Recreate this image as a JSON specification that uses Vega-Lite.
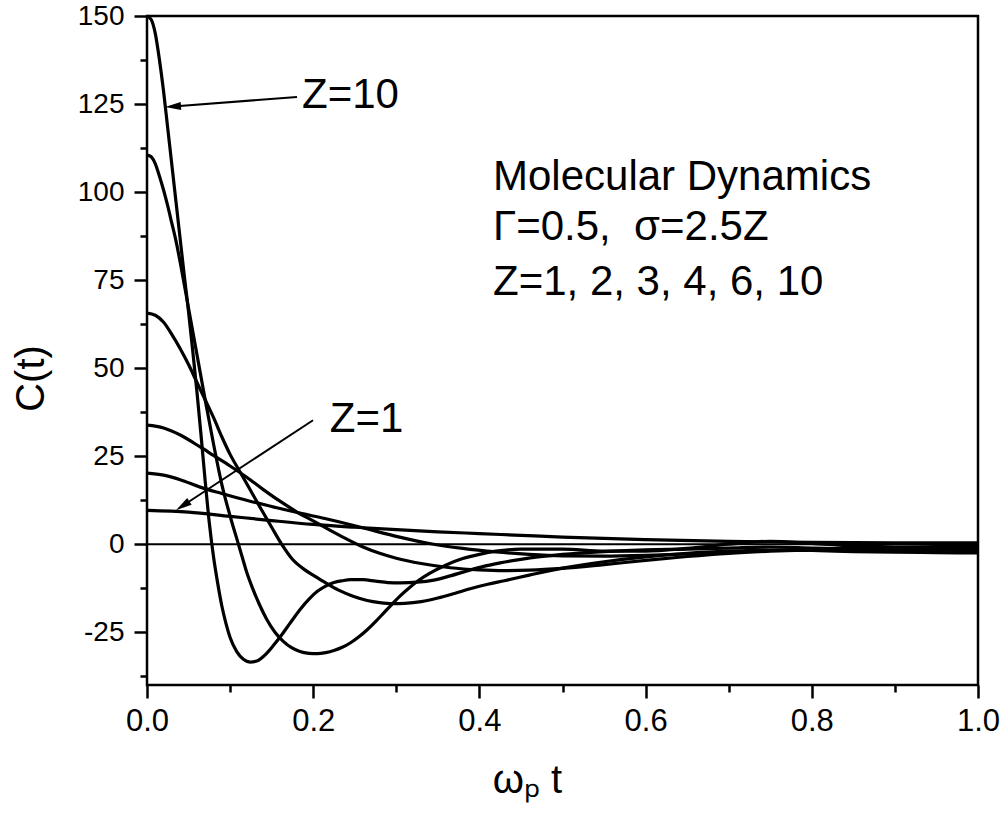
{
  "$schema": "https://vega.github.io/schema/vega-lite/v6.json",
  "width": 831,
  "height": 669,
  "autosize": "none",
  "padding": {"left": 147, "top": 16, "right": 26, "bottom": 128},
  "background": "white",
  "config": {
    "view": {"stroke": "black", "strokeWidth": 2.5},
    "font": "Liberation Sans",
    "axis": {"domain": false, "grid": false, "tickColor": "black", "tickWidth": 2.5, "labelColor": "black", "titleColor": "black", "titleFontWeight": "normal", "labelFont": "Liberation Sans", "titleFont": "Liberation Sans"}
  },
  "datasets": {
    "curves": [
      {"z": 10, "t": 0, "c": 150}, {"z": 10, "t": 0.005, "c": 149}, {"z": 10, "t": 0.01, "c": 145}, {"z": 10, "t": 0.015, "c": 137.5},
      {"z": 10, "t": 0.02, "c": 128.5}, {"z": 10, "t": 0.025, "c": 118}, {"z": 10, "t": 0.03, "c": 107.5}, {"z": 10, "t": 0.035, "c": 97},
      {"z": 10, "t": 0.04, "c": 86.5}, {"z": 10, "t": 0.045, "c": 76}, {"z": 10, "t": 0.05, "c": 66}, {"z": 10, "t": 0.055, "c": 55},
      {"z": 10, "t": 0.06, "c": 43.5}, {"z": 10, "t": 0.065, "c": 31}, {"z": 10, "t": 0.07, "c": 18}, {"z": 10, "t": 0.075, "c": 6},
      {"z": 10, "t": 0.08, "c": -3.5}, {"z": 10, "t": 0.085, "c": -11}, {"z": 10, "t": 0.09, "c": -17.5}, {"z": 10, "t": 0.095, "c": -22.5},
      {"z": 10, "t": 0.1, "c": -26.5}, {"z": 10, "t": 0.108, "c": -30.5}, {"z": 10, "t": 0.116, "c": -32.7}, {"z": 10, "t": 0.124, "c": -33.5},
      {"z": 10, "t": 0.132, "c": -33.2}, {"z": 10, "t": 0.144, "c": -31}, {"z": 10, "t": 0.153, "c": -28.5}, {"z": 10, "t": 0.162, "c": -25.8},
      {"z": 10, "t": 0.172, "c": -22.5}, {"z": 10, "t": 0.184, "c": -18.6}, {"z": 10, "t": 0.195, "c": -15.6}, {"z": 10, "t": 0.205, "c": -13.4},
      {"z": 10, "t": 0.215, "c": -11.9}, {"z": 10, "t": 0.225, "c": -10.9}, {"z": 10, "t": 0.235, "c": -10.4}, {"z": 10, "t": 0.245, "c": -10.1},
      {"z": 10, "t": 0.26, "c": -10.1}, {"z": 10, "t": 0.275, "c": -10.5}, {"z": 10, "t": 0.29, "c": -10.9}, {"z": 10, "t": 0.305, "c": -11},
      {"z": 10, "t": 0.325, "c": -10.8}, {"z": 10, "t": 0.345, "c": -10.2}, {"z": 10, "t": 0.365, "c": -9}, {"z": 10, "t": 0.385, "c": -7.6},
      {"z": 10, "t": 0.405, "c": -6.3}, {"z": 10, "t": 0.425, "c": -5.3}, {"z": 10, "t": 0.45, "c": -4.3}, {"z": 10, "t": 0.5, "c": -2.9},
      {"z": 10, "t": 0.55, "c": -2.1}, {"z": 10, "t": 0.6, "c": -1.6}, {"z": 10, "t": 0.65, "c": -1.4}, {"z": 10, "t": 0.7, "c": -1.1},
      {"z": 10, "t": 0.75, "c": -0.8}, {"z": 10, "t": 0.8, "c": -1.1}, {"z": 10, "t": 0.85, "c": -1.4}, {"z": 10, "t": 0.9, "c": -1.6},
      {"z": 10, "t": 0.95, "c": -1.7}, {"z": 10, "t": 1.0, "c": -1.8},

      {"z": 6, "t": 0, "c": 110.5}, {"z": 6, "t": 0.005, "c": 110}, {"z": 6, "t": 0.01, "c": 108}, {"z": 6, "t": 0.015, "c": 104.5},
      {"z": 6, "t": 0.02, "c": 100.5}, {"z": 6, "t": 0.025, "c": 96}, {"z": 6, "t": 0.03, "c": 91}, {"z": 6, "t": 0.035, "c": 86},
      {"z": 6, "t": 0.04, "c": 80}, {"z": 6, "t": 0.05, "c": 67}, {"z": 6, "t": 0.06, "c": 54}, {"z": 6, "t": 0.07, "c": 41},
      {"z": 6, "t": 0.08, "c": 28.5}, {"z": 6, "t": 0.09, "c": 17}, {"z": 6, "t": 0.1, "c": 8}, {"z": 6, "t": 0.11, "c": 0},
      {"z": 6, "t": 0.115, "c": -4}, {"z": 6, "t": 0.12, "c": -8}, {"z": 6, "t": 0.127, "c": -12.5}, {"z": 6, "t": 0.135, "c": -17},
      {"z": 6, "t": 0.144, "c": -21.3}, {"z": 6, "t": 0.154, "c": -25}, {"z": 6, "t": 0.164, "c": -27.6}, {"z": 6, "t": 0.174, "c": -29.4},
      {"z": 6, "t": 0.184, "c": -30.5}, {"z": 6, "t": 0.195, "c": -31}, {"z": 6, "t": 0.205, "c": -31.1}, {"z": 6, "t": 0.215, "c": -30.8},
      {"z": 6, "t": 0.225, "c": -30.2}, {"z": 6, "t": 0.235, "c": -29.3}, {"z": 6, "t": 0.245, "c": -28}, {"z": 6, "t": 0.255, "c": -26.3},
      {"z": 6, "t": 0.265, "c": -24.3}, {"z": 6, "t": 0.275, "c": -22}, {"z": 6, "t": 0.285, "c": -19.5}, {"z": 6, "t": 0.295, "c": -17},
      {"z": 6, "t": 0.305, "c": -14.6}, {"z": 6, "t": 0.315, "c": -12.5}, {"z": 6, "t": 0.325, "c": -10.6}, {"z": 6, "t": 0.34, "c": -8.3},
      {"z": 6, "t": 0.36, "c": -5.9}, {"z": 6, "t": 0.38, "c": -4.1}, {"z": 6, "t": 0.4, "c": -2.9}, {"z": 6, "t": 0.42, "c": -2},
      {"z": 6, "t": 0.45, "c": -1.4}, {"z": 6, "t": 0.5, "c": -1.4}, {"z": 6, "t": 0.55, "c": -2}, {"z": 6, "t": 0.6, "c": -2},
      {"z": 6, "t": 0.65, "c": -1.2}, {"z": 6, "t": 0.7, "c": 0}, {"z": 6, "t": 0.75, "c": 0.8}, {"z": 6, "t": 0.8, "c": 0.2},
      {"z": 6, "t": 0.85, "c": -0.5}, {"z": 6, "t": 0.9, "c": -0.8}, {"z": 6, "t": 0.95, "c": -0.9}, {"z": 6, "t": 1.0, "c": -1},

      {"z": 4, "t": 0, "c": 65.6}, {"z": 4, "t": 0.01, "c": 65}, {"z": 4, "t": 0.02, "c": 63}, {"z": 4, "t": 0.03, "c": 59.5},
      {"z": 4, "t": 0.04, "c": 55.5}, {"z": 4, "t": 0.05, "c": 51}, {"z": 4, "t": 0.06, "c": 46}, {"z": 4, "t": 0.07, "c": 41},
      {"z": 4, "t": 0.08, "c": 36}, {"z": 4, "t": 0.09, "c": 30.5}, {"z": 4, "t": 0.1, "c": 25.5}, {"z": 4, "t": 0.112, "c": 20.5},
      {"z": 4, "t": 0.124, "c": 15.5}, {"z": 4, "t": 0.136, "c": 10.5}, {"z": 4, "t": 0.15, "c": 4.8}, {"z": 4, "t": 0.162, "c": 0},
      {"z": 4, "t": 0.175, "c": -4.3}, {"z": 4, "t": 0.19, "c": -7.3}, {"z": 4, "t": 0.2, "c": -8.8}, {"z": 4, "t": 0.215, "c": -11},
      {"z": 4, "t": 0.23, "c": -13}, {"z": 4, "t": 0.248, "c": -14.8}, {"z": 4, "t": 0.265, "c": -16}, {"z": 4, "t": 0.28, "c": -16.6},
      {"z": 4, "t": 0.296, "c": -16.9}, {"z": 4, "t": 0.31, "c": -16.8}, {"z": 4, "t": 0.33, "c": -16.3}, {"z": 4, "t": 0.35, "c": -15.3},
      {"z": 4, "t": 0.37, "c": -14}, {"z": 4, "t": 0.39, "c": -12.6}, {"z": 4, "t": 0.41, "c": -11.4}, {"z": 4, "t": 0.43, "c": -10.4},
      {"z": 4, "t": 0.46, "c": -8.8}, {"z": 4, "t": 0.5, "c": -6.8}, {"z": 4, "t": 0.55, "c": -5}, {"z": 4, "t": 0.6, "c": -3.6},
      {"z": 4, "t": 0.65, "c": -2.6}, {"z": 4, "t": 0.7, "c": -2}, {"z": 4, "t": 0.75, "c": -1.7}, {"z": 4, "t": 0.8, "c": -1.8},
      {"z": 4, "t": 0.85, "c": -2.1}, {"z": 4, "t": 0.9, "c": -2.3}, {"z": 4, "t": 0.95, "c": -2.4}, {"z": 4, "t": 1.0, "c": -2.5},

      {"z": 3, "t": 0, "c": 33.8}, {"z": 3, "t": 0.02, "c": 33}, {"z": 3, "t": 0.04, "c": 31}, {"z": 3, "t": 0.064, "c": 27.6},
      {"z": 3, "t": 0.08, "c": 25.2}, {"z": 3, "t": 0.1, "c": 22.2}, {"z": 3, "t": 0.12, "c": 19}, {"z": 3, "t": 0.14, "c": 15.5},
      {"z": 3, "t": 0.16, "c": 12.2}, {"z": 3, "t": 0.18, "c": 9.2}, {"z": 3, "t": 0.2, "c": 6.6}, {"z": 3, "t": 0.22, "c": 4},
      {"z": 3, "t": 0.24, "c": 1.5}, {"z": 3, "t": 0.26, "c": -0.8}, {"z": 3, "t": 0.28, "c": -2.6}, {"z": 3, "t": 0.3, "c": -4},
      {"z": 3, "t": 0.33, "c": -5.5}, {"z": 3, "t": 0.365, "c": -6.7}, {"z": 3, "t": 0.4, "c": -7.3}, {"z": 3, "t": 0.43, "c": -7.5},
      {"z": 3, "t": 0.46, "c": -7.4}, {"z": 3, "t": 0.5, "c": -6.9}, {"z": 3, "t": 0.55, "c": -5.8}, {"z": 3, "t": 0.6, "c": -4.6},
      {"z": 3, "t": 0.65, "c": -3.5}, {"z": 3, "t": 0.7, "c": -2.6}, {"z": 3, "t": 0.75, "c": -2}, {"z": 3, "t": 0.8, "c": -1.6},
      {"z": 3, "t": 0.85, "c": -1.4}, {"z": 3, "t": 0.9, "c": -1.3}, {"z": 3, "t": 0.95, "c": -1.2}, {"z": 3, "t": 1.0, "c": -1.2},

      {"z": 2, "t": 0, "c": 20.2}, {"z": 2, "t": 0.02, "c": 19.6}, {"z": 2, "t": 0.04, "c": 18.3}, {"z": 2, "t": 0.064, "c": 16.2},
      {"z": 2, "t": 0.09, "c": 14.4}, {"z": 2, "t": 0.124, "c": 12.2}, {"z": 2, "t": 0.155, "c": 10.4}, {"z": 2, "t": 0.184, "c": 8.8},
      {"z": 2, "t": 0.214, "c": 7.3}, {"z": 2, "t": 0.244, "c": 5.6}, {"z": 2, "t": 0.27, "c": 4}, {"z": 2, "t": 0.304, "c": 2},
      {"z": 2, "t": 0.34, "c": 0.2}, {"z": 2, "t": 0.38, "c": -1.2}, {"z": 2, "t": 0.42, "c": -2.2}, {"z": 2, "t": 0.46, "c": -2.9},
      {"z": 2, "t": 0.5, "c": -3.3}, {"z": 2, "t": 0.55, "c": -3.4}, {"z": 2, "t": 0.6, "c": -3.2}, {"z": 2, "t": 0.65, "c": -2.8},
      {"z": 2, "t": 0.7, "c": -2.3}, {"z": 2, "t": 0.75, "c": -1.8}, {"z": 2, "t": 0.8, "c": -1.4}, {"z": 2, "t": 0.85, "c": -1.1},
      {"z": 2, "t": 0.9, "c": -0.9}, {"z": 2, "t": 0.95, "c": -0.7}, {"z": 2, "t": 1.0, "c": -0.6},

      {"z": 1, "t": 0, "c": 9.6}, {"z": 1, "t": 0.05, "c": 9.1}, {"z": 1, "t": 0.1, "c": 7.9}, {"z": 1, "t": 0.15, "c": 6.7},
      {"z": 1, "t": 0.2, "c": 5.6}, {"z": 1, "t": 0.25, "c": 4.8}, {"z": 1, "t": 0.3, "c": 4.1}, {"z": 1, "t": 0.35, "c": 3.5},
      {"z": 1, "t": 0.4, "c": 3}, {"z": 1, "t": 0.45, "c": 2.5}, {"z": 1, "t": 0.5, "c": 2}, {"z": 1, "t": 0.6, "c": 1.3},
      {"z": 1, "t": 0.7, "c": 0.8}, {"z": 1, "t": 0.8, "c": 0.5}, {"z": 1, "t": 0.9, "c": 0.4}, {"z": 1, "t": 1.0, "c": 0.4}
    ],
    "notes": [
      {"t": 0.4164, "c": 100.6, "label": "Molecular Dynamics"},
      {"t": 0.4164, "c": 86.4, "label": "Γ=0.5,\u00a0 σ=2.5Z"},
      {"t": 0.4164, "c": 70.7, "label": "Z=1, 2, 3, 4, 6, 10"},
      {"t": 0.1865, "c": 124, "label": "Z=10"},
      {"t": 0.22, "c": 31.8, "label": "Z=1"}
    ],
    "arrows": [
      {"a": "z10", "t": 0.1805, "c": 127.0}, {"a": "z10", "t": 0.0313, "c": 124.3},
      {"a": "z1", "t": 0.1998, "c": 35.2}, {"a": "z1", "t": 0.043, "c": 10.9}
    ]
  },
  "layer": [
    {
      "data": {"name": "curves"},
      "mark": {"type": "line", "color": "black", "strokeWidth": 3.2, "interpolate": "monotone"},
      "encoding": {
        "x": {
          "field": "t", "type": "quantitative",
          "scale": {"domain": [0, 1], "nice": false, "zero": false},
          "axis": {
            "values": [0, 0.1, 0.2, 0.3, 0.4, 0.5, 0.6, 0.7, 0.8, 0.9, 1.0],
            "labelExpr": "round(datum.value*10) % 2 == 0 ? format(datum.value, '.1f') : ''",
            "tickSize": {"condition": {"test": "round(datum.value*10) % 2 == 0", "value": 13}, "value": 7},
            "labelFontSize": 31, "labelPadding": 8, "labelFlush": false, "labelOverlap": false,
            "title": "ωₚ t", "titleFontSize": 40, "titleX": 380, "titleY": 107,
            "titleBaseline": "alphabetic", "titleAlign": "center"
          }
        },
        "y": {
          "field": "c", "type": "quantitative",
          "scale": {"domain": [-40, 150], "nice": false, "zero": false},
          "axis": {
            "values": [-37.5, -25, -12.5, 0, 12.5, 25, 37.5, 50, 62.5, 75, 87.5, 100, 112.5, 125, 137.5, 150],
            "labelExpr": "datum.value % 25 == 0 ? toString(datum.value) : ''",
            "tickSize": {"condition": {"test": "datum.value % 25 == 0", "value": 13}, "value": 7},
            "labelFontSize": 28, "labelPadding": 10, "labelOverlap": false,
            "title": "C(t)", "titleFontSize": 40, "titleAngle": 270, "titleX": -104, "titleY": 362,
            "titleBaseline": "alphabetic", "titleAlign": "center"
          }
        },
        "detail": {"field": "z", "type": "nominal"}
      }
    },
    {
      "data": {"values": [{}]},
      "mark": {"type": "rule", "color": "black", "strokeWidth": 2},
      "encoding": {"y": {"datum": 0}}
    },
    {
      "data": {"name": "notes"},
      "mark": {"type": "text", "align": "left", "baseline": "alphabetic", "fontSize": 42, "font": "Liberation Sans", "color": "black"},
      "encoding": {
        "x": {"field": "t", "type": "quantitative"},
        "y": {"field": "c", "type": "quantitative"},
        "text": {"field": "label"}
      }
    },
    {
      "data": {"name": "arrows"},
      "mark": {"type": "line", "color": "black", "strokeWidth": 2},
      "encoding": {
        "x": {"field": "t", "type": "quantitative"},
        "y": {"field": "c", "type": "quantitative"},
        "detail": {"field": "a"}
      }
    },
    {
      "data": {"values": [{"t": 0.0313, "c": 124.3}]},
      "mark": {"type": "point", "filled": true, "color": "black", "opacity": 1, "shape": "M-1,0L1,-0.5L1,0.5Z", "size": 256, "angle": 355.7},
      "encoding": {
        "x": {"field": "t", "type": "quantitative"},
        "y": {"field": "c", "type": "quantitative"}
      }
    },
    {
      "data": {"values": [{"t": 0.043, "c": 10.9}]},
      "mark": {"type": "point", "filled": true, "color": "black", "opacity": 1, "shape": "M-1,0L1,-0.5L1,0.5Z", "size": 256, "angle": 326.7},
      "encoding": {
        "x": {"field": "t", "type": "quantitative"},
        "y": {"field": "c", "type": "quantitative"}
      }
    }
  ]
}
